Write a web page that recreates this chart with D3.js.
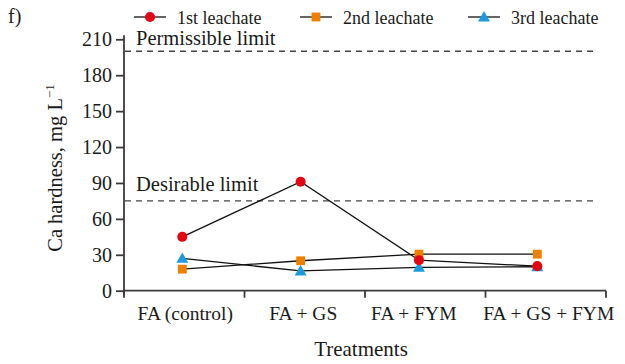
<!DOCTYPE html>
<html><head><meta charset="utf-8">
<script src="https://cdn.jsdelivr.net/npm/d3@7"></script>
<style>body{margin:0;background:#fff}</style>
</head><body><svg id="c" width="625" height="364"></svg>
<script>
const categories = ["FA (control)", "FA + GS", "FA + FYM", "FA + GS + FYM"];
const leachate1 = [45, 91, 25.5, 20.5];
const leachate2 = [18, 25, 30.5, 30.5];
const leachate3 = [27, 16.5, 19.5, 20];
const seriesNames = ["1st leachate", "2nd leachate", "3rd leachate"];
const seriesColors = ["#e30613", "#f07f00", "#1d9be0"];
const yTicks = [0, 30, 60, 90, 120, 150, 180, 210];
const permissible = 200;
const desirable = 75;
const labelShift = [1, -1.5, -11.5, 3];

const FONT = "Liberation Serif";
const svg = d3.select("#c");
const axisColor = "#3a3a3a";
const x0 = 124, x1 = 606, yBot = 290.7, yTop = 39.3;
const y = d3.scaleLinear().domain([0, 210]).range([yBot, yTop]);
const xBand = d3.scaleBand().domain(categories).range([x0, x1]);
const xPt = d3.scalePoint().domain(categories).range([182.3, 537.3]);

function txt(sel, size) { return sel.attr("font-family", FONT).attr("font-size", size).attr("fill", "#1a1a1a"); }

// dashed limit lines
[[permissible, "Permissible limit", 45], [desirable, "Desirable limit", 190.5]].forEach(([v, label, ty]) => {
  svg.append("line").attr("x1", x0 + 1).attr("x2", 598).attr("y1", y(v)).attr("y2", y(v))
    .attr("stroke", "#444").attr("stroke-width", 1.3).attr("stroke-dasharray", "6,5");
  txt(svg.append("text").attr("x", 136).attr("y", ty), 20.5).text(label);
});

// y axis
const yAxis = svg.append("g").attr("transform", `translate(${x0},0)`)
  .call(d3.axisLeft(y).tickValues(yTicks).tickSize(8).tickPadding(4).tickFormat(d3.format("d")));
yAxis.select(".domain").attr("d", `M0,${yBot + 5}V${yTop - 4}`);
yAxis.selectAll("line,path").attr("stroke", axisColor).attr("stroke-width", 1.8);
txt(yAxis.selectAll("text"), 20);

// x axis
const xAxis = svg.append("g").attr("transform", `translate(0,${yBot})`)
  .call(d3.axisBottom(xBand).tickSize(0).tickPadding(15));
xAxis.select(".domain").attr("d", `M${x0},0H${x1}`);
xAxis.selectAll("line,path").attr("stroke", axisColor).attr("stroke-width", 1.8);
txt(xAxis.selectAll("text"), 19.5).attr("dx", (d, i) => labelShift[i]);
const edges = categories.map(c => xBand(c)).concat([x1]);
xAxis.selectAll(".edge").data(edges).enter().append("line")
  .attr("x1", d => d).attr("x2", d => d).attr("y1", 0).attr("y2", 7)
  .attr("stroke", axisColor).attr("stroke-width", 1.8);

// axis titles
txt(svg.append("text").attr("x", 361).attr("y", 356).attr("text-anchor", "middle"), 21).text("Treatments");
const yt = txt(svg.append("text").attr("transform", "translate(62,168) rotate(-90)").attr("text-anchor", "middle"), 20.5);
yt.append("tspan").text("Ca hardness, mg L");
yt.append("tspan").attr("dy", -8).attr("font-size", 13).text("−1");

txt(svg.append("text").attr("x", 8).attr("y", 23), 20).text("f)");

// series
const series = [leachate1, leachate2, leachate3];
const line = d3.line().x((d, i) => xPt(categories[i])).y(d => y(d));
const symTypes = [d3.symbolCircle, d3.symbolSquare, d3.symbolTriangle];
const symSizes = [80, 78, 62];
series.forEach((vals, si) => {
  svg.append("path").attr("d", line(vals)).attr("fill", "none").attr("stroke", "#111").attr("stroke-width", 1.3);
});
[1, 2, 0].forEach(si => {
  const vals = series[si];
  svg.selectAll(null).data(vals).enter().append("path")
    .attr("transform", (d, i) => `translate(${xPt(categories[i])},${y(d) + (si === 2 ? 1 : 0)})`)
    .attr("d", d3.symbol().type(symTypes[si]).size(symSizes[si]))
    .attr("fill", seriesColors[si]);
});

// legend
const legX = [134, 300, 468];
seriesNames.forEach((n, i) => {
  const g = svg.append("g").attr("transform", `translate(${legX[i]},17)`);
  g.append("line").attr("x1", 0).attr("x2", 32).attr("stroke", "#111").attr("stroke-width", 1.3);
  g.append("path").attr("transform", `translate(16,${i === 2 ? 1 : 0})`)
    .attr("d", d3.symbol().type(symTypes[i]).size(symSizes[i])).attr("fill", seriesColors[i]);
  txt(g.append("text").attr("x", 43).attr("y", 7), 18).text(n);
});
</script></body></html>
